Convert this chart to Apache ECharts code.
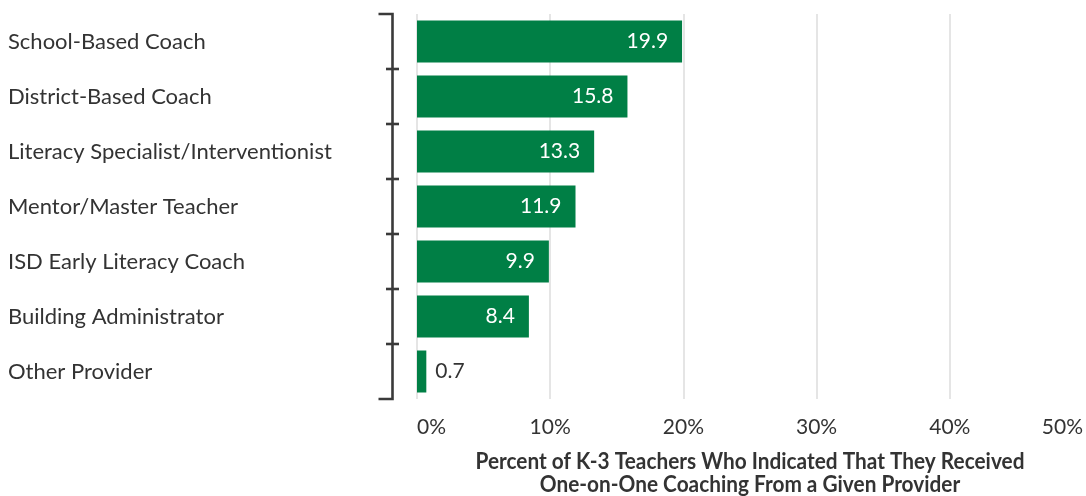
<!DOCTYPE html>
<html>
<head>
<meta charset="utf-8">
<style>
  html, body { margin: 0; padding: 0; background: #fff; overflow: hidden; }
  #chart { width: 1086px; height: 496px; }
</style>
<script src="https://cdn.jsdelivr.net/npm/echarts@6/dist/echarts.min.js"></script>
</head>
<body>
<div id="chart"></div>
<script>
// Coaching providers and share of K-3 teachers (%) receiving one-on-one coaching
const providers = [
  'School-Based Coach',
  'District-Based Coach',
  'Literacy Specialist/Interventionist',
  'Mentor/Master Teacher',
  'ISD Early Literacy Coach',
  'Building Administrator',
  'Other Provider'
];
const percents = [19.9, 15.8, 13.3, 11.9, 9.9, 8.4, 0.7];
const titleLines = [
  'Percent of K-3 Teachers Who Indicated That They Received',
  'One-on-One Coaching From a Given Provider'
];

const GREEN = '#007f45';
const INK = '#333333';
const FONT = 'Lato, "Noto Sans", sans-serif';

const chart = echarts.init(document.getElementById('chart'), null, { renderer: 'canvas' });

// Short bars get their value printed outside in dark text
const barData = percents.map(v => v < 3
  ? { value: v, label: { position: 'right', distance: 9, color: INK } }
  : { value: v });

chart.setOption({
  animation: false,
  grid: { left: 417, top: 14, width: 670, height: 385, containLabel: false },
  xAxis: {
    type: 'value',
    min: 0,
    max: 50,
    interval: 10,
    axisLine: { show: false },
    axisTick: { show: false },
    splitLine: {
      show: true,
      showMaxLine: false,
      lineStyle: { color: '#dcdcdc', width: 1.5 }
    },
    axisLabel: {
      formatter: '{value}%',
      color: INK,
      fontFamily: FONT,
      fontSize: 21,
      margin: 18,
      alignMinLabel: 'left',
      alignMaxLabel: 'right'
    }
  },
  yAxis: {
    type: 'category',
    inverse: true,
    data: providers,
    axisLine: { show: false },
    axisTick: { show: false },
    splitLine: { show: false },
    axisLabel: {
      color: INK,
      fontFamily: FONT,
      fontSize: 22,
      align: 'left',
      margin: 409
    }
  },
  series: [{
    type: 'bar',
    data: barData,
    barWidth: 42,
    itemStyle: { color: GREEN },
    label: {
      show: true,
      position: 'insideRight',
      distance: 14,
      color: '#ffffff',
      fontFamily: FONT,
      fontSize: 21,
      formatter: p => p.value.toFixed(1)
    }
  }]
});

// Bracket beside the category labels plus the condensed bold axis title
function drawDecorations() {
  const c0 = chart.convertToPixel({ yAxisIndex: 0 }, 0);
  const c1 = chart.convertToPixel({ yAxisIndex: 0 }, 1);
  const band = c1 - c0;
  const x0 = chart.convertToPixel({ xAxisIndex: 0 }, 0);
  const x50 = chart.convertToPixel({ xAxisIndex: 0 }, 50);
  const ax = x0 - 24.5;
  const top = c0 - band / 2;
  const bottom = top + band * providers.length;
  const style = { stroke: '#3a3a3a', lineWidth: 2.6 };
  const els = [
    { type: 'polyline', shape: { points: [[ax - 14, top], [ax, top], [ax, bottom], [ax - 14, bottom]] }, style: Object.assign({ fill: null }, style) }
  ];
  for (let i = 1; i < providers.length; i++) {
    const y = top + band * i;
    els.push({ type: 'line', shape: { x1: ax - 6.5, y1: y, x2: ax + 6.5, y2: y }, style });
  }

  // Title text is squeezed horizontally to mimic a condensed bold face
  const titleFont = 'bold 22px Lato, "Noto Sans", sans-serif';
  const ctx = document.createElement('canvas').getContext('2d');
  ctx.font = titleFont;
  const squeeze = Math.min(1, 549 / ctx.measureText(titleLines[0]).width);
  const cx = (x0 + x50) / 2;
  titleLines.forEach((line, i) => {
    els.push({
      type: 'text',
      x: cx,
      y: bottom + 63 + i * 22.5,
      scaleX: squeeze,
      style: {
        text: line,
        font: titleFont,
        fill: INK,
        textAlign: 'center',
        textVerticalAlign: 'middle'
      }
    });
  });
  chart.setOption({ graphic: els });
}
drawDecorations();
</script>
</body>
</html>
